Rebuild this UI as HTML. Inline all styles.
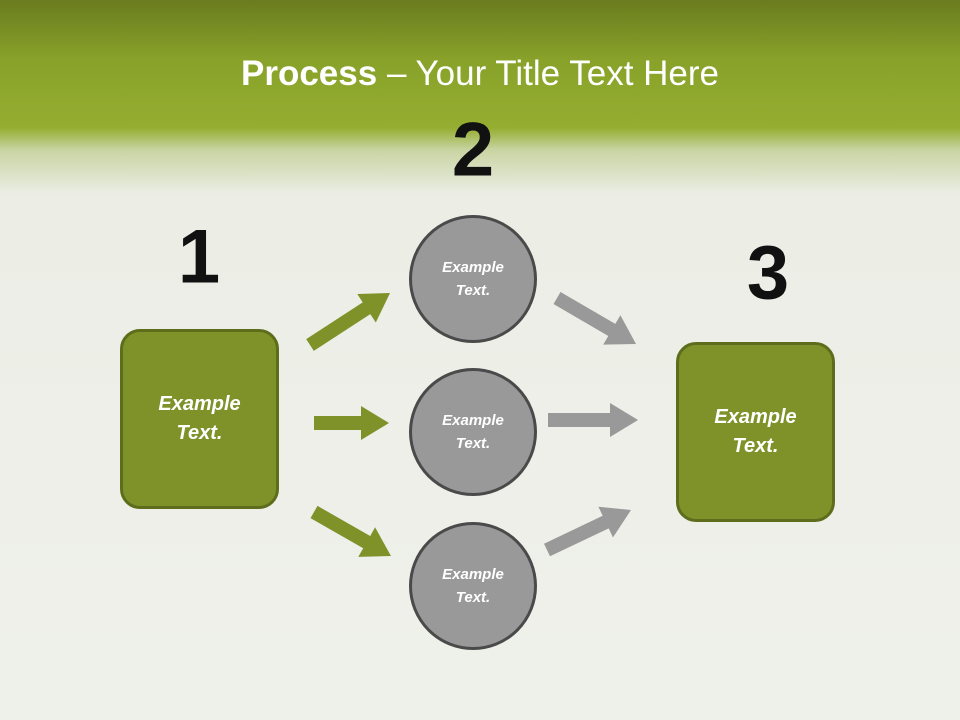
<!DOCTYPE html>
<html><head><style>
body{margin:0;width:960px;height:720px;overflow:hidden;font-family:"Liberation Sans",sans-serif;}
#bg{position:absolute;left:0;top:0;width:960px;height:720px;background:linear-gradient(to bottom,#6a7c1e 0px,#88a22a 60px,#95ae31 128px,#c9d4a3 150px,#eceee6 195px,#eef0ea 720px);}
.t{position:absolute;left:0;width:960px;text-align:center;top:54px;color:#fff;font-size:35px;font-family:"Liberation Sans",sans-serif;}
.n{position:absolute;font-size:76px;font-weight:bold;color:#111;font-family:"Liberation Sans",sans-serif;transform:translate(-50%,-50%);}
.box{position:absolute;width:153px;height:174px;border:3px solid #5d6d1b;border-radius:20px;background:#7f922a;color:#fff;font-style:italic;font-weight:bold;font-size:20px;display:flex;align-items:center;justify-content:center;text-align:center;line-height:29px;}
.c{position:absolute;width:122px;height:122px;border:3px solid #4a4a4a;border-radius:50%;background:#999;color:#fff;font-style:italic;font-weight:bold;font-size:15px;display:flex;align-items:center;justify-content:center;text-align:center;line-height:23px;transform:translate(-50%,-50%);}
</style></head><body>
<div id="bg"></div>
<svg id="sv" width="960" height="720" style="position:absolute;left:0;top:0"></svg>
<script>
var A=[[310,345,390,293,"#7f922a"],[314,423,389,423,"#7f922a"],[314,512,391,556,"#7f922a"],
[557,298,636,344,"#999"],[548,420,638,420,"#999"],[547,550,631,510,"#999"]];
var s="";
A.forEach(function(a){var dx=a[2]-a[0],dy=a[3]-a[1],L=Math.hypot(dx,dy),ux=dx/L,uy=dy/L,px=-uy,py=ux,h=28,w=7,hw=17;
var bx=a[2]-ux*h,by=a[3]-uy*h;
var p=[[a[0]+px*w,a[1]+py*w],[bx+px*w,by+py*w],[bx+px*hw,by+py*hw],[a[2],a[3]],[bx-px*hw,by-py*hw],[bx-px*w,by-py*w],[a[0]-px*w,a[1]-py*w]];
s+='<polygon fill="'+a[4]+'" points="'+p.map(function(q){return q[0].toFixed(1)+","+q[1].toFixed(1)}).join(" ")+'"/>';});
document.getElementById("sv").innerHTML=s;
</script>
<div class="t"><b>Process</b> – Your Title Text Here</div>
<div class="n" style="left:199px;top:257px">1</div>
<div class="n" style="left:473px;top:150px">2</div>
<div class="n" style="left:768px;top:273px">3</div>
<div class="box" style="left:120px;top:329px">Example<br>Text.</div>
<div class="box" style="left:676px;top:342px">Example<br>Text.</div>
<div class="c" style="left:473px;top:279px">Example<br>Text.</div>
<div class="c" style="left:473px;top:432px">Example<br>Text.</div>
<div class="c" style="left:473px;top:586px">Example<br>Text.</div>
</body></html>
